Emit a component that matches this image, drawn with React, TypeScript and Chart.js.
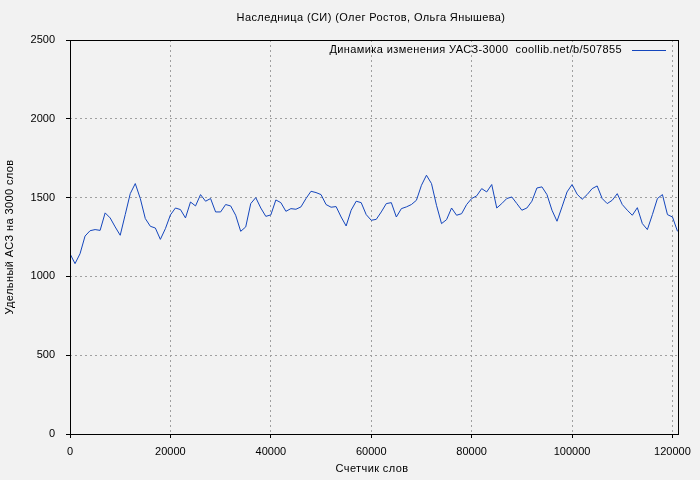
import React, { useEffect, useRef } from "react";
import { Chart, registerables } from "chart.js";

Chart.register(...registerables);

const TITLE = "Наследница (СИ) (Олег Ростов, Ольга Янышева)";
const X_TITLE = "Счетчик слов";
const Y_TITLE = "Удельный АСЗ на 3000 слов";
const LEGEND = "Динамика изменения УАСЗ-3000  coollib.net/b/507855";

const X_TICKS = [0, 20000, 40000, 60000, 80000, 100000, 120000];
const Y_TICKS = [0, 500, 1000, 1500, 2000, 2500];

const WORDS = [
  0, 1000, 2000, 3000, 4000, 5000, 6000, 7000, 8000, 9000,
  10000, 11000, 12000, 13000, 14000, 15000, 16000, 17000, 18000, 19000,
  20000, 21000, 22000, 23000, 24000, 25000, 26000, 27000, 28000, 29000,
  30000, 31000, 32000, 33000, 34000, 35000, 36000, 37000, 38000, 39000,
  40000, 41000, 42000, 43000, 44000, 45000, 46000, 47000, 48000, 49000,
  50000, 51000, 52000, 53000, 54000, 55000, 56000, 57000, 58000, 59000,
  60000, 61000, 62000, 63000, 64000, 65000, 66000, 67000, 68000, 69000,
  70000, 71000, 72000, 73000, 74000, 75000, 76000, 77000, 78000, 79000,
  80000, 81000, 82000, 83000, 84000, 85000, 86000, 87000, 88000, 89000,
  90000, 91000, 92000, 93000, 94000, 95000, 96000, 97000, 98000, 99000,
  100000, 101000, 102000, 103000, 104000, 105000, 106000, 107000, 108000, 109000,
  110000, 111000, 112000, 113000, 114000, 115000, 116000, 117000, 118000, 119000,
  120000, 121000,
];

const VALUES = [
  1144, 1081, 1144, 1256, 1290, 1297, 1292, 1403, 1371, 1314,
  1261, 1392, 1525, 1589, 1494, 1367, 1318, 1307, 1235, 1303,
  1390, 1434, 1424, 1371, 1472, 1447, 1519, 1477, 1494, 1409,
  1409, 1456, 1447, 1388, 1286, 1314, 1462, 1500, 1434, 1381,
  1390, 1485, 1468, 1413, 1430, 1426, 1441, 1494, 1540, 1532,
  1519, 1456, 1439, 1443, 1377, 1320, 1420, 1477, 1468, 1392,
  1356, 1362, 1409, 1462, 1468, 1377, 1430, 1441, 1456, 1483,
  1578, 1642, 1589, 1451, 1335, 1360, 1434, 1388, 1398, 1456,
  1494, 1511, 1557, 1536, 1583, 1434, 1462, 1494, 1504, 1462,
  1420, 1434, 1477, 1561, 1568, 1519, 1420, 1350, 1441, 1536,
  1583, 1522, 1489, 1519, 1557, 1574, 1494, 1462, 1483, 1525,
  1456, 1420, 1388, 1436, 1335, 1297, 1392, 1494, 1519, 1392,
  1377, 1286,
];

const X_MAX = 121100;
const Y_MAX = 2500;

const BG = "#f2f2f2";
const LINE = "#1446bd";
const GRID = "#a0a0a0";
const FONT = "Liberation Sans";

export default function App() {
  const ref = useRef<HTMLCanvasElement | null>(null);

  useEffect(() => {
    if (!ref.current) return;
    const decor = {
      id: "decor",
      beforeDraw(chart: any) {
        const { ctx } = chart;
        ctx.save();
        ctx.fillStyle = BG;
        ctx.fillRect(0, 0, chart.width, chart.height);
        ctx.restore();
      },
      afterDraw(chart: any) {
        const { ctx, chartArea: a } = chart;
        ctx.save();
        ctx.strokeStyle = "#000";
        ctx.lineWidth = 1;
        ctx.setLineDash([]);
        ctx.strokeRect(Math.round(a.left) + 0.5, Math.round(a.top) + 0.5, Math.round(a.right - a.left), Math.round(a.bottom - a.top));
        ctx.fillStyle = "#000";
        ctx.font = `11px "${FONT}"`;
        (ctx as any).letterSpacing = "0.4px";
        ctx.textBaseline = "middle";
        ctx.textAlign = "center";
        ctx.fillText(TITLE, 371, 18);
        ctx.fillText(X_TITLE, 372, 469);
        ctx.save();
        ctx.translate(10, 237);
        ctx.rotate(-Math.PI / 2);
        ctx.fillText(Y_TITLE, 0, 0);
        ctx.restore();
        ctx.textAlign = "right";
        ctx.fillText(LEGEND, 622, 50);
        ctx.strokeStyle = LINE;
        ctx.beginPath();
        ctx.moveTo(632, 50.5);
        ctx.lineTo(666, 50.5);
        ctx.stroke();
        ctx.restore();
      },
    };

    const chart = new Chart(ref.current, {
      type: "line",
      data: {
        datasets: [
          {
            label: LEGEND,
            data: WORDS.map((w, i) => ({ x: w, y: VALUES[i] })),
            borderColor: LINE,
            borderWidth: 1,
            pointRadius: 0,
            tension: 0,
            fill: false,
          },
        ],
      },
      options: {
        animation: false,
        responsive: false,
        events: [],
        layout: { padding: { left: 0, top: 40, right: 22, bottom: 0 } },
        plugins: {
          legend: { display: false },
          title: { display: false },
          tooltip: { enabled: false },
        },
        scales: {
          x: {
            type: "linear",
            min: 0,
            max: X_MAX,
            afterBuildTicks: (s: any) => {
              s.ticks = X_TICKS.map((v) => ({ value: v }));
            },
            afterFit: (s: any) => {
              s.height = 46;
            },
            border: { display: false, dash: [2, 3] },
            grid: {
              color: GRID,
              tickColor: "#000",
              tickLength: 4,
              tickBorderDash: [],
              lineWidth: 1,
            },
            ticks: {
              color: "#000",
              font: { family: FONT, size: 11 },
              padding: 7,
              maxRotation: 0,
              callback: (v: any) => String(v),
            },
          },
          y: {
            type: "linear",
            min: 0,
            max: Y_MAX,
            afterBuildTicks: (s: any) => {
              s.ticks = Y_TICKS.map((v) => ({ value: v }));
            },
            afterFit: (s: any) => {
              s.width = 70;
            },
            border: { display: false, dash: [2, 3] },
            grid: {
              color: GRID,
              tickColor: "#000",
              tickLength: 4,
              tickBorderDash: [],
              lineWidth: 1,
            },
            ticks: {
              color: "#000",
              font: { family: FONT, size: 11 },
              padding: 11,
              callback: (v: any) => String(v),
            },
          },
        },
      },
      plugins: [decor],
    });
    return () => chart.destroy();
  }, []);

  return (
    <div style={{ position: "absolute", left: 0, top: 0, width: 700, height: 480, background: BG }}>
      <canvas ref={ref} width={700} height={480} style={{ display: "block" }} />
    </div>
  );
}
